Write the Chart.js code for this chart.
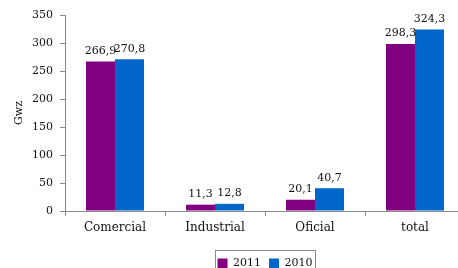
<!DOCTYPE html>
<html>
<head>
<meta charset="utf-8">
<script src="https://cdn.jsdelivr.net/npm/chart.js@4/dist/chart.umd.min.js"></script>
<style>
html,body{margin:0;padding:0;background:#fff;overflow:hidden;width:458px;height:268px;}
canvas{display:block;}
</style>
</head>
<body>
<canvas id="c" width="470" height="279"></canvas>
<script>
const categories = ["Comercial", "Industrial", "Oficial", "total"];
const seriesNames = ["2011", "2010"];
const values2011 = [266.9, 11.3, 20.1, 298.3];
const values2010 = [270.8, 12.8, 40.7, 324.3];
const yTicks = [0, 50, 100, 150, 200, 250, 300, 350];
const yTitle = "Gwz";

const FONT = "'DejaVu Serif', Georgia, serif";
const TEXT = "#111";
const AXIS = "#8a8a8a";

const fmt = v => v.toFixed(1).replace('.', ',');

const labelPlugin = {
  id: 'barLabels',
  afterDatasetsDraw(chart) {
    const ctx = chart.ctx;
    ctx.save();
    ctx.font = "11px " + FONT;
    ctx.fillStyle = TEXT;
    ctx.textAlign = 'center';
    ctx.textBaseline = 'bottom';
    chart.data.datasets.forEach((ds, di) => {
      const meta = chart.getDatasetMeta(di);
      meta.data.forEach((bar, i) => {
        ctx.fillText(fmt(ds.data[i]), bar.x, bar.y - 5);
      });
    });
    ctx.restore();
  }
};

const legendBorder = {
  id: 'legendBorder',
  afterDraw(chart) {
    const lg = chart.legend;
    if (!lg || !lg.legendHitBoxes || !lg.legendHitBoxes.length) return;
    const hb = lg.legendHitBoxes;
    const l = Math.min(...hb.map(h => h.left)) - 3;
    const r = Math.max(...hb.map(h => h.left + h.width)) + 2;
    const t = Math.min(...hb.map(h => h.top)) - 8;
    const b = Math.max(...hb.map(h => h.top + h.height)) + 8;
    const ctx = chart.ctx;
    ctx.save();
    ctx.strokeStyle = AXIS;
    ctx.lineWidth = 1;
    ctx.strokeRect(Math.round(l) + 0.5, Math.round(t) + 0.5, Math.round(r - l), Math.round(b - t));
    ctx.restore();
  }
};

new Chart(document.getElementById('c'), {
  type: 'bar',
  data: {
    labels: categories,
    datasets: [
      { label: seriesNames[0], data: values2011, backgroundColor: '#800080', borderWidth: 0 },
      { label: seriesNames[1], data: values2010, backgroundColor: '#0066CC', borderWidth: 0 }
    ]
  },
  options: {
    responsive: false,
    animation: false,
    events: [],
    layout: { padding: { top: 15, right: 5, left: 0, bottom: 0 } },
    datasets: { bar: { categoryPercentage: 0.58, barPercentage: 1.0 } },
    plugins: {
      tooltip: { enabled: false },
      legend: {
        position: 'bottom',
        fullSize: false,
        labels: {
          boxWidth: 10, boxHeight: 10, padding: 8,
          color: TEXT,
          font: { family: FONT, size: 11 }
        }
      }
    },
    scales: {
      x: {
        grid: { offset: true, drawOnChartArea: false, tickLength: 5, color: AXIS },
        border: { color: AXIS, width: 1 },
        ticks: { color: TEXT, font: { family: FONT, size: 12 }, padding: 5 },
        afterFit(s) { s.height = 39; }
      },
      y: {
        min: 0, max: 350,
        afterBuildTicks(s) { s.ticks = yTicks.map(v => ({ value: v })); },
        grid: { drawOnChartArea: false, tickLength: 5, color: AXIS },
        border: { color: AXIS, width: 1 },
        ticks: { color: TEXT, font: { family: FONT, size: 11 }, padding: 7 },
        title: { display: true, text: yTitle, color: TEXT, font: { family: FONT, size: 11 }, padding: { top: 13, bottom: 0 } },
        afterFit(s) { s.width = 65; }
      }
    }
  },
  plugins: [labelPlugin, legendBorder]
});
</script>
</body>
</html>
